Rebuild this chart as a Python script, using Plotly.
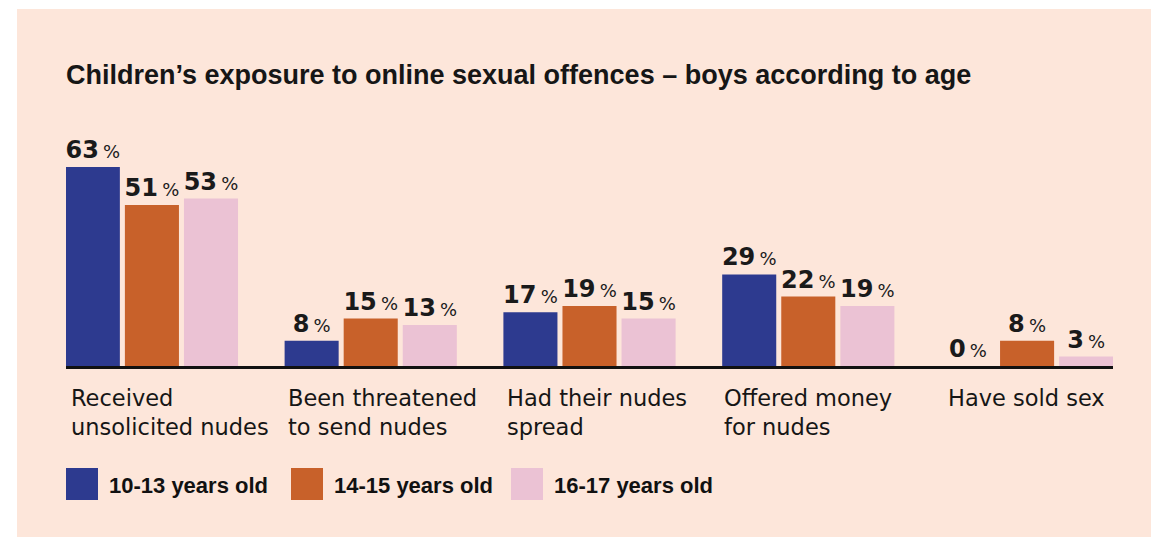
import plotly.graph_objects as go

categories = ["Received<br>unsolicited nudes", "Been threatened<br>to send nudes",
              "Had their nudes<br>spread", "Offered money<br>for nudes", "Have sold sex"]
series_names = ["10-13 years old", "14-15 years old", "16-17 years old"]
vals_10_13 = [63, 8, 17, 29, 0]
vals_14_15 = [51, 15, 19, 22, 8]
vals_16_17 = [53, 13, 15, 19, 3]
colors = ["#2d3a8f", "#c8612a", "#ebc2d4"]
title = "Children’s exposure to online sexual offences – boys according to age"

# page body has an 8px margin; lay out in window pixels and compensate
OFF = 8
WIN_W, WIN_H = 1161, 541
W, H = WIN_W - OFF, WIN_H - OFF
PL, PR, PT, PB = 66, 1113, 100, 366   # plot area in window pixels
ML, MR, MT, MB = PL - OFF, WIN_W - PR, PT - OFF, WIN_H - PB
PW, PH = PR - PL, PB - PT


def px_x(x):
    return (x - PL) / PW


def px_y(y):
    return (PB - y) / PH


fig = go.Figure()
xs = list(range(len(categories)))
for name, vals, col in zip(series_names, [vals_10_13, vals_14_15, vals_16_17], colors):
    fig.add_trace(go.Bar(
        x=xs, y=vals, name=name, marker=dict(color=col, line=dict(width=0)),
        text=[f"<b>{v}</b><span style='font-size:13px'> </span>"
              f"<span style='font-size:18px'>%</span>" for v in vals],
        textposition="outside", constraintext="none", cliponaxis=False,
        textfont=dict(family="DejaVu Sans", size=24, color="#1a1a1a"),
        showlegend=False, hoverinfo="skip",
    ))

half = 0.3927
fig.update_layout(
    width=W, height=H,
    margin=dict(l=ML, r=MR, t=MT, b=MB),
    paper_bgcolor="#ffffff", plot_bgcolor="rgba(0,0,0,0)",
    barmode="group", bargap=0.19, bargroupgap=0.085,
    xaxis=dict(range=[-half, len(categories) - 1 + half], showticklabels=False,
               showgrid=False, zeroline=False, showline=True, linecolor="#111111",
               linewidth=3, ticks=""),
    yaxis=dict(range=[0, 84.2], visible=False, showgrid=False, zeroline=False),
    font=dict(family="Liberation Sans", color="#1a1a1a"),
)

shapes = [dict(type="rect", xref="paper", yref="paper", layer="below",
               x0=px_x(17), x1=px_x(1151), y0=px_y(537), y1=px_y(9),
               fillcolor="#fde6da", line=dict(width=0))]

annotations = [dict(text=f"<b>{title}</b>", xref="paper", yref="paper",
                    x=px_x(64), y=px_y(75), xanchor="left", yanchor="middle",
                    showarrow=False, font=dict(family="Liberation Sans", size=27, color="#161616"))]

cat_offsets = [3, 1, 1, 0, 5]
for i, c in enumerate(categories):
    annotations.append(dict(text=c, xref="x", yref="paper", x=i - half, xshift=cat_offsets[i],
                            y=px_y(383), xanchor="left", yanchor="top", align="left",
                            showarrow=False,
                            font=dict(family="DejaVu Sans", size=22.5, color="#161616")))

leg_x = [66, 291, 511]
for name, col, lx in zip(series_names, colors, leg_x):
    shapes.append(dict(type="rect", xref="paper", yref="paper",
                       x0=px_x(lx), x1=px_x(lx + 32), y0=px_y(500), y1=px_y(468),
                       fillcolor=col, line=dict(width=0)))
    annotations.append(dict(text=f"<b>{name}</b>", xref="paper", yref="paper",
                            x=px_x(lx + 41), y=px_y(485), xanchor="left", yanchor="middle",
                            showarrow=False,
                            font=dict(family="Liberation Sans", size=22, color="#111111")))

fig.update_layout(shapes=shapes, annotations=annotations)
fig.write_html("out.html")
